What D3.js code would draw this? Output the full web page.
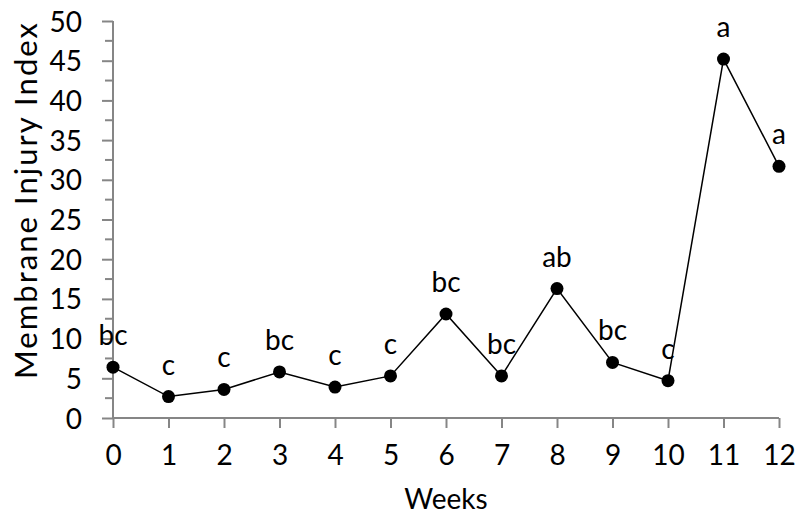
<!DOCTYPE html>
<html>
<head>
<meta charset="utf-8">
<script src="https://cdn.jsdelivr.net/npm/d3@7"></script>
<style>
  html, body { margin: 0; padding: 0; background: #fff; }
  svg { display: block; }
  text { font-family: Lato, "Open Sans", sans-serif; fill: #000; }
</style>
</head>
<body>
<script>
// Membrane injury index by week, with significance letters
const weeks = [0, 1, 2, 3, 4, 5, 6, 7, 8, 9, 10, 11, 12];
const injuryIndex = [6.4, 2.7, 3.6, 5.8, 3.9, 5.3, 13.1, 5.3, 16.3, 7.0, 4.7, 45.2, 31.7];
const groupLetters = ["bc", "c", "c", "bc", "c", "c", "bc", "bc", "ab", "bc", "c", "a", "a"];
const yTicks = [0, 5, 10, 15, 20, 25, 30, 35, 40, 45, 50];
const yMinorTicks = [2.5, 7.5, 12.5, 17.5, 22.5, 27.5, 32.5, 37.5, 42.5, 47.5];

const width = 800, height = 514;
const margin = { left: 113, right: 21, top: 21, bottom: 96 };

const svg = d3.select("body").append("svg")
  .attr("width", width).attr("height", height);

const x = d3.scaleLinear().domain([0, 12]).range([margin.left, width - margin.right]);
const y = d3.scaleLinear().domain([0, 50]).range([height - margin.bottom, margin.top]);

const axisColor = "#868686";

// Y axis: major ticks with labels, minor ticks between
const yAxis = svg.append("g")
  .attr("transform", `translate(${margin.left},0)`)
  .call(d3.axisLeft(y).tickValues(yTicks).tickSize(11).tickPadding(20).tickFormat(d3.format("d")));
yAxis.append("g").selectAll("line").data(yMinorTicks).join("line")
  .attr("x1", -8).attr("x2", 0)
  .attr("y1", d => y(d)).attr("y2", d => y(d));

// X axis
const xAxis = svg.append("g")
  .attr("transform", `translate(0,${y(0)})`)
  .call(d3.axisBottom(x).tickValues(weeks).tickSize(10).tickPadding(17).tickFormat(d3.format("d")));

[yAxis, xAxis].forEach(g => {
  g.select(".domain").attr("stroke", axisColor).attr("stroke-width", 2);
  g.selectAll("line").attr("stroke", axisColor).attr("stroke-width", 2);
  g.selectAll("text").attr("font-size", 28).attr("font-family", "Lato, 'Open Sans', sans-serif").attr("fill", "#000");
});
yAxis.selectAll(".tick text").attr("dy", "0.36em");
xAxis.select(".domain").attr("d", `M${x(0)},0H${x(12)}`);
yAxis.select(".domain").attr("d", `M0,${y(0)}V${y(50)}`);

const pts = weeks.map((w, i) => ({ w, v: injuryIndex[i], g: groupLetters[i] }));

// Connecting line
svg.append("path")
  .datum(pts)
  .attr("fill", "none")
  .attr("stroke", "#000")
  .attr("stroke-width", 1.5)
  .attr("d", d3.line().x(d => x(d.w)).y(d => y(d.v)));

// Markers
svg.append("g").selectAll("circle").data(pts).join("circle")
  .attr("cx", d => x(d.w)).attr("cy", d => y(d.v)).attr("r", 6.5)
  .attr("fill", "#000");

// Significance letters
svg.append("g").selectAll("text").data(pts).join("text")
  .attr("x", d => x(d.w)).attr("y", d => y(d.v) - 22)
  .attr("text-anchor", "middle")
  .attr("font-size", 28)
  .text(d => d.g);

// Axis titles
svg.append("text")
  .attr("x", x(6)).attr("y", 509)
  .attr("text-anchor", "middle")
  .attr("font-size", 28)
  .text("Weeks");

svg.append("text")
  .attr("transform", `translate(37,201) rotate(-90)`)
  .attr("text-anchor", "middle")
  .attr("font-family", "'Open Sans', Lato, sans-serif")
  .attr("font-size", 31)
  .attr("textLength", 356)
  .attr("lengthAdjust", "spacing")
  .text("Membrane Injury Index");
</script>
</body>
</html>
